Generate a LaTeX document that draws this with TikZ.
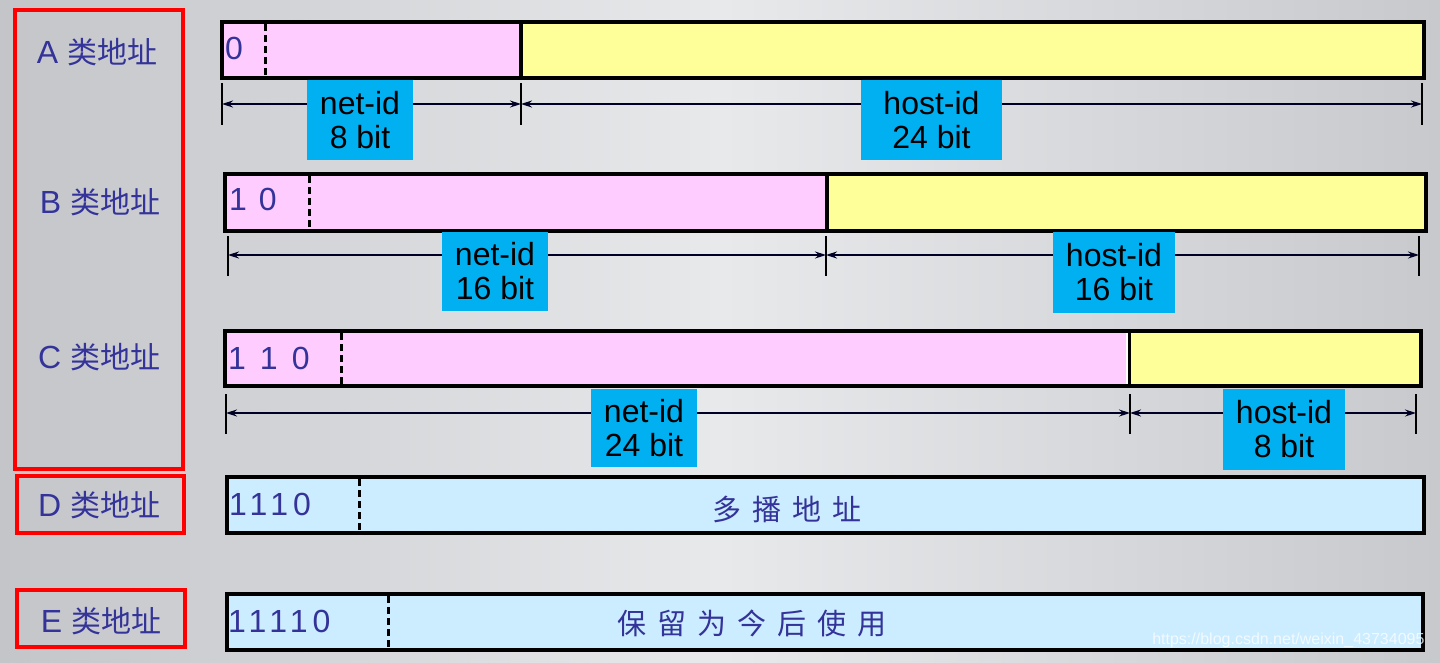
\documentclass[tikz,border=0pt]{standalone}
\usepackage{fontspec}
\setmainfont{Liberation Sans}
\newfontfamily\cjk{Noto Sans CJK SC}
\newfontfamily\spaced[LetterSpace=16]{Liberation Sans}
\usetikzlibrary{arrows.meta}
\definecolor{bgL}{RGB}{196,197,201}
\definecolor{bgM}{RGB}{232,233,235}
\definecolor{bgR}{RGB}{200,201,205}
\definecolor{pinkf}{RGB}{255,204,255}
\definecolor{yellowf}{RGB}{255,255,153}
\definecolor{bluef}{RGB}{204,236,255}
\definecolor{cyanl}{RGB}{0,176,240}
\definecolor{navy}{RGB}{51,51,153}
\tikzset{
  redbox/.style={draw=red, line width=3.5pt},
  bar/.style={draw=black, line width=3.5pt},
  dashsep/.style={draw=black, line width=3pt, dash pattern=on 7pt off 4pt},
  tickline/.style={draw=black, line width=2.2pt},
  dimline/.style={draw=black!85!blue, line width=1.3pt, {Stealth[length=11pt,width=7pt]}-{Stealth[length=11pt,width=7pt]}},
  idlbl/.style={fill=cyanl, text=black, align=center, inner sep=0pt, font=\fontsize{32}{34}\selectfont},
  classlbl/.style={text=navy, font=\fontsize{32}{32}\selectfont},
  bartext/.style={text=navy, anchor=west, inner sep=0pt, font=\fontsize{32}{32}\selectfont},
  cjkbar/.style={text=navy, font=\cjk\fontsize{29}{29}\selectfont},
}
\newcommand{\cjkl}[1]{{\cjk\fontsize{30}{30}\selectfont #1}}
\begin{document}
\begin{tikzpicture}[x=1pt,y=-1pt]
\useasboundingbox (0,0) rectangle (1440,662);
\shade[left color=bgL, right color=bgR, middle color=bgM] (0,0) rectangle (1440,662);

% red boxes and class labels
\draw[redbox] (15,10) rectangle (183,469);
\draw[redbox] (17,476) rectangle (184,533);
\draw[redbox] (17,590) rectangle (185,647);
\node[classlbl] (la) at (97,52) {A \cjkl{类地址}};
\node[classlbl] (lb) at (100,202) {B \cjkl{类地址}};
\node[classlbl] (lc) at (99,357) {C \cjkl{类地址}};
\node[classlbl] (ld) at (99,505) {D \cjkl{类地址}};
\node[classlbl] (le) at (101,621) {E \cjkl{类地址}};

% ---------- A ----------
\fill[pinkf] (222,22) rectangle (521,78);
\fill[yellowf] (521,22) rectangle (1424,78);
\draw[bar] (222,22) rectangle (1424,78);
\draw[bar] (521,22) -- (521,78);
\draw[dashsep] (265,24) -- (265,76);
\node[bartext] (ta) at (225,48) {0};
\coordinate (a0) at (222,104);
\coordinate (a1) at (521,104);
\coordinate (a2) at (1422,104);
\foreach \x in {222,521,1422} \draw[tickline] (\x,83) -- (\x,125);
\draw[dimline] (a0) -- (a1);
\draw[dimline] (a1) -- (a2);
\node[idlbl, minimum width=106pt, minimum height=80pt] (na) at (360,120) {net-id\\8 bit};
\node[idlbl, minimum width=141pt, minimum height=80pt] (ha) at (931.5,120) {host-id\\24 bit};

% ---------- B ----------
\fill[pinkf] (225,174) rectangle (826,231);
\fill[yellowf] (826,174) rectangle (1426,231);
\draw[bar] (225,174) rectangle (1426,231);
\draw[bar] (827,174) -- (827,231);
\draw[dashsep] (309,176) -- (309,229);
\node[bartext] (tb) at (229,199) {1\hspace{12pt}0};
\coordinate (b0) at (228,255);
\coordinate (b1) at (826,255);
\coordinate (b2) at (1419,255);
\foreach \x in {228,826,1419} \draw[tickline] (\x,236) -- (\x,276);
\draw[dimline] (b0) -- (b1);
\draw[dimline] (b1) -- (b2);
\node[idlbl, minimum width=106pt, minimum height=79pt] (nb) at (495,271.5) {net-id\\16 bit};
\node[idlbl, minimum width=122pt, minimum height=81pt] (hb) at (1114,272.5) {host-id\\16 bit};

% ---------- C ----------
\fill[pinkf] (225,331) rectangle (1127,386);
\fill[yellowf] (1129,331) rectangle (1421,386);
\draw[bar] (225,331) rectangle (1421,386);
\draw[line width=2.5pt] (1129.5,331) -- (1129.5,386);
\draw[line width=2pt, white] (1126.8,333) -- (1126.8,384);
\draw[dashsep] (341,333) -- (341,384);
\node[bartext] (tc) at (228,358) {1\hspace{14pt}1\hspace{14pt}0};
\coordinate (c0) at (226,413);
\coordinate (c1) at (1130,413);
\coordinate (c2) at (1416,413);
\foreach \x in {226,1130,1416} \draw[tickline] (\x,394) -- (\x,434);
\draw[dimline] (c0) -- (c1);
\draw[dimline] (c1) -- (c2);
\node[idlbl, minimum width=106pt, minimum height=78pt] (nc) at (644,428) {net-id\\24 bit};
\node[idlbl, minimum width=122pt, minimum height=81pt] (hc) at (1284,429.5) {host-id\\8 bit};

% ---------- D ----------
\fill[bluef] (227,477) rectangle (1424,533);
\draw[bar] (227,477) rectangle (1424,533);
\draw[dashsep] (359,479) -- (359,531);
\node[bartext, font=\spaced\fontsize{32}{32}\selectfont] (td) at (229,504) {1110};
\node[cjkbar] (md) at (787,509) {多\hspace{11pt}播\hspace{11pt}地\hspace{11pt}址};

% ---------- E ----------
\fill[bluef] (227,594) rectangle (1423,650);
\draw[bar] (227,594) rectangle (1423,650);
\draw[dashsep] (388,596) -- (388,648);
\node[bartext, font=\spaced\fontsize{32}{32}\selectfont] (te) at (228,621) {11110};
\node[cjkbar] (me) at (752,623) {保\hspace{11pt}留\hspace{11pt}为\hspace{11pt}今\hspace{11pt}后\hspace{11pt}使\hspace{11pt}用};

% watermark
\node[text=white, opacity=0.75, font=\fontsize{16}{16}\selectfont, anchor=east] (wm) at (1428,640) {https://blog.csdn.net/weixin\_43734095};
\end{tikzpicture}
\end{document}
